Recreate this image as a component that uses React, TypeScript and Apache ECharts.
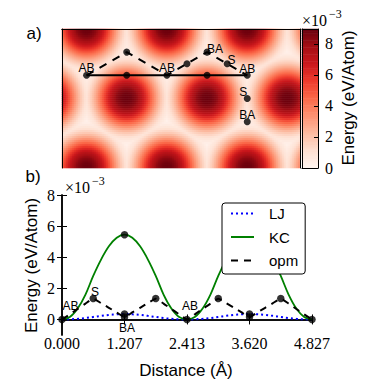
import React, { useEffect, useRef } from "react";
import * as echarts from "echarts";

// ---------- panel b data (distance in Å, energy in 1e-3 eV/atom) ----------
const distance = [0, 0.151, 0.302, 0.453, 0.603, 0.754, 0.905, 1.056, 1.207, 1.358, 1.508, 1.659, 1.81, 1.961, 2.112, 2.262, 2.413,
  2.564, 2.715, 2.866, 3.017, 3.168, 3.318, 3.469, 3.62, 3.771, 3.922, 4.073, 4.224, 4.375, 4.525, 4.676, 4.827];
const ljEnergy = [0, 0.01, 0.04, 0.09, 0.16, 0.23, 0.29, 0.33, 0.35, 0.33, 0.29, 0.23, 0.16, 0.09, 0.04, 0.01, 0,
  0.01, 0.04, 0.09, 0.16, 0.23, 0.29, 0.33, 0.35, 0.33, 0.29, 0.23, 0.16, 0.09, 0.04, 0.01, 0];
const kcEnergy = [0, 0.15, 0.7, 1.6, 2.8, 3.85, 4.7, 5.25, 5.45, 5.25, 4.7, 3.85, 2.8, 1.6, 0.7, 0.15, 0,
  0.15, 0.7, 1.6, 2.8, 3.85, 4.7, 5.25, 5.45, 5.25, 4.7, 3.85, 2.8, 1.6, 0.7, 0.15, 0];
const opmEnergy = [0, 0.33, 0.67, 1.02, 1.33, 1.05, 0.75, 0.45, 0.15, 0.45, 0.75, 1.05, 1.33, 1.02, 0.67, 0.33, 0,
  0.33, 0.67, 1.02, 1.33, 1.05, 0.75, 0.45, 0.15, 0.45, 0.75, 1.05, 1.33, 1.02, 0.67, 0.33, 0];
const xTicks = [0, 1.207, 2.413, 3.62, 4.827];
const yTicks = [0, 2, 4, 6, 8];
const bottomMarkers = [[0, 0], [0.603, 1.35], [1.207, 0.15], [1.207, 0.35], [1.207, 5.45], [1.81, 1.35], [2.413, 0],
  [3.017, 1.35], [3.62, 0.15], [3.62, 0.35], [3.62, 5.45], [4.224, 1.35], [4.827, 0]];
const bottomLabelNames = ["AB", "S", "BA", "AB"];
const bottomLabelPoints = [[0, 0], [0.603, 1.35], [1.207, 0.15], [2.413, 0]];

// ---------- panel a data (positions in Å) ----------
const mapExtentX = 7.147;
const mapExtentY = 4.174;
const aaSites = [
  [-1.676, 0], [0.737, 0], [3.15, 0], [5.563, 0], [7.976, 0],
  [-0.47, 2.087], [1.943, 2.087], [4.356, 2.087], [6.769, 2.087], [9.182, 2.087],
  [-1.676, 4.174], [0.737, 4.174], [3.15, 4.174], [5.563, 4.174], [7.976, 4.174],
];
// energy vs distance from the nearest AA site
const profileDist = [0, 0.15, 0.3, 0.45, 0.6, 0.75, 0.9, 1.05, 1.2, 1.393];
const profileEnergy = [8.9, 8.75, 8.25, 7.3, 6.0, 4.5, 3.0, 1.8, 0.9, 0.2];
const colorbarMax = 8.95;
const colorbarTicks = [0, 2, 4, 6, 8];
const topSolidPath = [[0.737, 1.39], [1.943, 1.39], [3.15, 1.39], [4.356, 1.39], [5.563, 1.39]];
const topDashedPath = [[0.737, 1.39], [1.943, 0.694], [3.15, 1.39], [3.753, 1.042], [4.356, 0.694], [4.96, 1.042], [5.563, 1.39]];
const topExtraMarkers = [[1.943, 0.694], [3.753, 1.042], [4.356, 0.694], [4.96, 1.042], [5.563, 2.087], [5.563, 2.784]];
const topLabelNames = ["AB", "AB", "AB", "BA", "S", "S", "BA"];
const topLabelPoints = [[0.737, 1.39], [3.15, 1.39], [5.563, 1.39], [4.356, 0.694], [4.96, 1.042], [5.563, 2.087], [5.563, 2.784]];

const REDS = ["#fff5f0", "#fee0d2", "#fcbba1", "#fc9272", "#fb6a4a", "#ef3b2c", "#cb181d", "#a50f15", "#67000d"];
const SERIF = "Liberation Serif";
const SANS = "Liberation Sans";

function profileAt(d: number) {
  if (d >= profileDist[profileDist.length - 1]) return profileEnergy[profileEnergy.length - 1];
  for (let k = 0; k < profileDist.length - 1; k++) {
    if (d <= profileDist[k + 1]) {
      const t = (d - profileDist[k]) / (profileDist[k + 1] - profileDist[k]);
      return profileEnergy[k] + t * (profileEnergy[k + 1] - profileEnergy[k]);
    }
  }
  return 0;
}

export default function App() {
  const ref = useRef<HTMLDivElement>(null);
  useEffect(() => {
    if (!ref.current) return;
    const chart = echarts.init(ref.current, null, { renderer: "svg" });
    const NX = 119, NY = 70;
    const heat: number[][] = [];
    for (let j = 0; j < NY; j++) {
      for (let i = 0; i < NX; i++) {
        const x = ((i + 0.5) * mapExtentX) / NX;
        const y = ((j + 0.5) * mapExtentY) / NY;
        let d = 99;
        for (const s of aaSites) d = Math.min(d, Math.hypot(x - s[0], y - s[1]));
        heat.push([i, j, profileAt(d)]);
      }
    }
    const NB = 60;
    const cbar: number[][] = [];
    for (let k = 0; k < NB; k++) cbar.push([0, k, ((k + 0.5) * colorbarMax) / NB]);

    const topOffsets = [[0, -7], [0, -7], [0, -6.5], [8, -3.5], [4.4, -3.7], [-4, -7], [0, -7]];
    const bottomOffsets = [[8.5, -13], [1.8, -6.4], [2.5, 11], [3, -13.4]];
    const frame = { show: true, lineStyle: { color: "#000", width: 1 } };
    const frame2 = { show: true, lineStyle: { color: "#000", width: 1.5 } };
    const hideAll = { axisTick: { show: false }, axisLabel: { show: false }, splitLine: { show: false } };
    const range = (n: number) => Array.from({ length: n }, (_, k) => String(k));
    const pointLabel = {
      show: true, position: "inside", fontFamily: SANS, fontSize: 12, color: "#000", opacity: 1,
      textBorderWidth: 0, textShadowBlur: 0,
    };

    const txt = (text: string, x: number, y: number, font: string, extra: any = {}) => ({
      type: "text", x, y, z: 100, ...extra,
      style: { text, font, fill: "#000", align: "center", verticalAlign: "middle", textAlign: "center", textVerticalAlign: "middle", ...(extra.style || {}) },
    });

    chart.setOption({
      animation: false,
      backgroundColor: "#fff",
      grid: [
        { left: 62, top: 29, width: 238, height: 139 },
        { left: 62, top: 195, width: 250, height: 140 },
        { left: 302, top: 29, width: 16, height: 139 },
      ],
      visualMap: {
        type: "continuous", show: false, min: 0, max: colorbarMax, seriesIndex: [0, 1],
        inRange: { color: REDS },
      },
      xAxis: [
        { gridIndex: 0, type: "category", data: range(NX), axisLine: frame, z: 10, ...hideAll },
        { gridIndex: 0, type: "value", min: 0, max: mapExtentX, position: "top", axisLine: frame, z: 10, ...hideAll },
        {
          gridIndex: 1, type: "value", min: 0, max: 4.827, position: "bottom", axisLine: frame2, splitLine: { show: false },
          axisTick: { inside: true, length: 5, customValues: xTicks, lineStyle: { color: "#000" } },
          axisLabel: { customValues: xTicks, formatter: (v: number) => v.toFixed(3), fontFamily: SERIF, fontSize: 16, color: "#000", margin: 0 },
        },
        {
          gridIndex: 1, type: "value", min: 0, max: 4.827, position: "top", axisLine: frame2, splitLine: { show: false },
          axisTick: { inside: true, length: 5, customValues: xTicks, lineStyle: { color: "#000" } }, axisLabel: { show: false },
        },
        { gridIndex: 2, type: "category", data: ["c"], axisLine: frame, z: 10, ...hideAll },
        { gridIndex: 2, type: "value", min: 0, max: 1, position: "top", axisLine: frame, z: 10, ...hideAll },
      ],
      yAxis: [
        { gridIndex: 0, type: "category", data: range(NY), inverse: true, axisLine: frame, z: 10, ...hideAll },
        { gridIndex: 0, type: "value", min: 0, max: mapExtentY, inverse: true, position: "right", axisLine: frame, z: 10, ...hideAll },
        {
          gridIndex: 1, type: "value", min: -1, max: 8, position: "left", axisLine: frame2, splitLine: { show: false },
          axisTick: { inside: true, length: 5, customValues: yTicks, lineStyle: { color: "#000" } },
          axisLabel: { customValues: yTicks, fontFamily: SERIF, fontSize: 16, color: "#000", margin: 7 },
        },
        {
          gridIndex: 1, type: "value", min: -1, max: 8, position: "right", axisLine: frame2, splitLine: { show: false },
          axisTick: { inside: true, length: 5, customValues: yTicks, lineStyle: { color: "#000" } }, axisLabel: { show: false },
        },
        { gridIndex: 2, type: "category", data: range(NB), axisLine: frame, z: 10, ...hideAll },
        {
          gridIndex: 2, type: "value", min: 0, max: colorbarMax, position: "right", axisLine: frame, z: 10, splitLine: { show: false },
          axisTick: { inside: true, length: 4, customValues: colorbarTicks, lineStyle: { color: "#000" } },
          axisLabel: { customValues: colorbarTicks, fontFamily: SERIF, fontSize: 16, color: "#000", margin: 7 },
        },
      ],
      legend: {
        data: ["LJ", "KC", "opm"], orient: "vertical", left: 222, top: 203, padding: [3, 7, 6, 8],
        itemWidth: 23, itemHeight: 14, itemGap: 8.5, selectedMode: false,
        itemStyle: { opacity: 0 },
        backgroundColor: "#fff", borderColor: "#000", borderWidth: 1, borderRadius: 3,
        textStyle: { fontFamily: SANS, fontSize: 15, color: "#000", padding: [0, 0, 0, 10] },
      },
      series: [
        { type: "heatmap", xAxisIndex: 0, yAxisIndex: 0, data: heat, progressive: 0, silent: true, emphasis: { disabled: true } },
        { type: "heatmap", xAxisIndex: 4, yAxisIndex: 4, data: cbar, progressive: 0, silent: true, emphasis: { disabled: true } },
        {
          type: "line", xAxisIndex: 1, yAxisIndex: 1, data: topSolidPath, symbol: "none", silent: true,
          lineStyle: { color: "#000", width: 2 },
        },
        {
          type: "line", xAxisIndex: 1, yAxisIndex: 1, data: topDashedPath, symbol: "none", silent: true,
          lineStyle: { color: "#000", width: 2, type: [8, 7] },
        },
        {
          type: "scatter", xAxisIndex: 1, yAxisIndex: 1, data: [...topSolidPath, ...topExtraMarkers], symbolSize: 7,
          itemStyle: { color: "#000" }, silent: true,
        },
        {
          type: "scatter", xAxisIndex: 1, yAxisIndex: 1, symbolSize: 0, itemStyle: { color: "#000" }, silent: true,
          label: pointLabel, z: 5,
          data: topLabelPoints.map((p, k) => ({ value: p, label: { formatter: topLabelNames[k], offset: topOffsets[k] } })),
        },
        {
          name: "LJ", type: "line", xAxisIndex: 2, yAxisIndex: 2, symbol: "none", smooth: 0.35,
          data: distance.map((d, k) => [d, ljEnergy[k]]), lineStyle: { color: "#0000ff", width: 2, type: [2, 3] },
          itemStyle: { color: "#0000ff" },
        },
        {
          name: "KC", type: "line", xAxisIndex: 2, yAxisIndex: 2, symbol: "none", smooth: 0.35,
          data: distance.map((d, k) => [d, kcEnergy[k]]), lineStyle: { color: "#008000", width: 1.8 },
          itemStyle: { color: "#008000" },
        },
        {
          name: "opm", type: "line", xAxisIndex: 2, yAxisIndex: 2, symbol: "none", smooth: 0.15,
          data: distance.map((d, k) => [d, opmEnergy[k]]), lineStyle: { color: "#000", width: 2, type: [7, 6] },
          itemStyle: { color: "#000" },
        },
        {
          type: "scatter", xAxisIndex: 2, yAxisIndex: 2, data: bottomMarkers, symbolSize: 7.5,
          itemStyle: { color: "#000" }, silent: true, z: 3,
        },
        {
          type: "scatter", xAxisIndex: 2, yAxisIndex: 2, symbolSize: 0, itemStyle: { color: "#000" }, silent: true,
          label: pointLabel, z: 5,
          data: bottomLabelPoints.map((p, k) => ({ value: p, label: { formatter: bottomLabelNames[k], offset: bottomOffsets[k] } })),
        },
      ],
      graphic: [
        txt("a)", 34, 33, `17px "${SANS}"`),
        txt("b)", 33, 176.5, `17px "${SANS}"`),
        txt("×10", 302, 20, `16px "${SERIF}"`, { style: { align: "left", textAlign: "left" } }),
        txt("−3", 329, 13.5, `12px "${SERIF}"`, { style: { align: "left", textAlign: "left" } }),
        txt("×10", 65, 187, `16px "${SERIF}"`, { style: { align: "left", textAlign: "left" } }),
        txt("−3", 92, 180.5, `12px "${SERIF}"`, { style: { align: "left", textAlign: "left" } }),
        txt("Energy (eV/Atom)", 31, 265.5, `17px "${SANS}"`, { rotation: Math.PI / 2 }),
        txt("Energy (eV/Atom)", 348, 98, `17px "${SANS}"`, { rotation: Math.PI / 2 }),
        txt("Distance (Å)", 186, 370, `17px "${SANS}"`),
      ],
    });
    return () => chart.dispose();
  }, []);
  return <div ref={ref} style={{ position: "absolute", left: 0, top: 0, width: 374, height: 379 }} />;
}
